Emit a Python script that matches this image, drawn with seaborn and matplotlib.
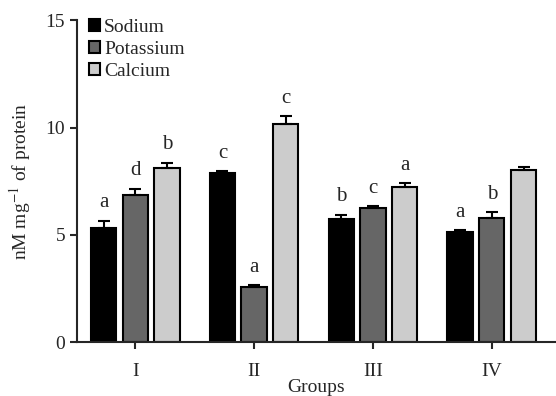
import numpy as np
import pandas as pd
import matplotlib
matplotlib.use("Agg")
import matplotlib.pyplot as plt
import seaborn as sns

groups = ["I", "II", "III", "IV"]
minerals = ["Sodium", "Potassium", "Calcium"]
sodium = [5.33, 7.88, 5.75, 5.14]
potassium = [6.87, 2.57, 6.24, 5.80]
calcium = [8.13, 10.16, 7.25, 8.02]
sodium_err = [0.33, 0.08, 0.19, 0.09]
potassium_err = [0.28, 0.09, 0.08, 0.27]
calcium_err = [0.23, 0.36, 0.17, 0.12]
sodium_letters = ["a", "c", "b", "a"]
potassium_letters = ["d", "a", "c", "b"]
calcium_letters = ["b", "c", "a", ""]
colors = ["#000000", "#666666", "#cccccc"]

df = pd.DataFrame({
    "Group": groups * 3,
    "Mineral": [m for m in minerals for _ in groups],
    "Value": sodium + potassium + calcium,
    "Err": sodium_err + potassium_err + calcium_err,
    "Letter": sodium_letters + potassium_letters + calcium_letters,
})

sns.set_style("ticks")
plt.rcParams["font.family"] = ["Liberation Serif", "DejaVu Serif"]
plt.rcParams["mathtext.fontset"] = "stix"
FS = 14

fig = plt.figure(figsize=(5.56, 3.96), dpi=100)
ax = fig.add_axes([0.1385, 0.136, 0.8615, 0.813])

sns.barplot(data=df, x="Group", y="Value", hue="Mineral", order=groups,
            hue_order=minerals, palette=colors, width=0.8, gap=0.2,
            edgecolor="black", linewidth=1.5, errorbar=None, ax=ax)

# error bars and letters from bar patches
bars = [p for p in ax.patches if p.get_height() > 0][:len(df)]
for p, (_, row) in zip(bars, df.iterrows()):
    xc = p.get_x() + p.get_width() / 2
    top = p.get_height()
    ax.errorbar(xc, top, yerr=[[0], [row["Err"]]], fmt="none",
                ecolor="black", elinewidth=1.5, capsize=4.5, capthick=1.5,
                zorder=1)
    if row["Letter"]:
        ax.annotate(row["Letter"], (xc, top + row["Err"]), xytext=(0, 6),
                    textcoords="offset points", ha="center", va="bottom",
                    fontsize=FS + 1)

ax.set_ylim(0, 15)
ax.set_xlim(-0.49, 3.54)
ax.set_yticks([0, 5, 10, 15])
ax.set_xlabel("Groups", fontsize=FS, labelpad=-1)
ax.set_ylabel(r"nM mg$^{-1}$ of protein", fontsize=FS, labelpad=9)
ax.tick_params(axis="both", labelsize=FS, width=1.5, length=5, direction="out")
ax.tick_params(axis="x", pad=10)
for s in ["left", "bottom"]:
    ax.spines[s].set_linewidth(1.5)
sns.despine(ax=ax)

handles, labels = ax.get_legend_handles_labels()
ax.legend(handles, labels, loc="upper left", bbox_to_anchor=(0.0, 1.04),
          frameon=False, fontsize=FS, handlelength=0.6, handleheight=0.6,
          handletextpad=0.2, labelspacing=0.25, borderaxespad=0.2)

fig.savefig("out.png", dpi=100)
